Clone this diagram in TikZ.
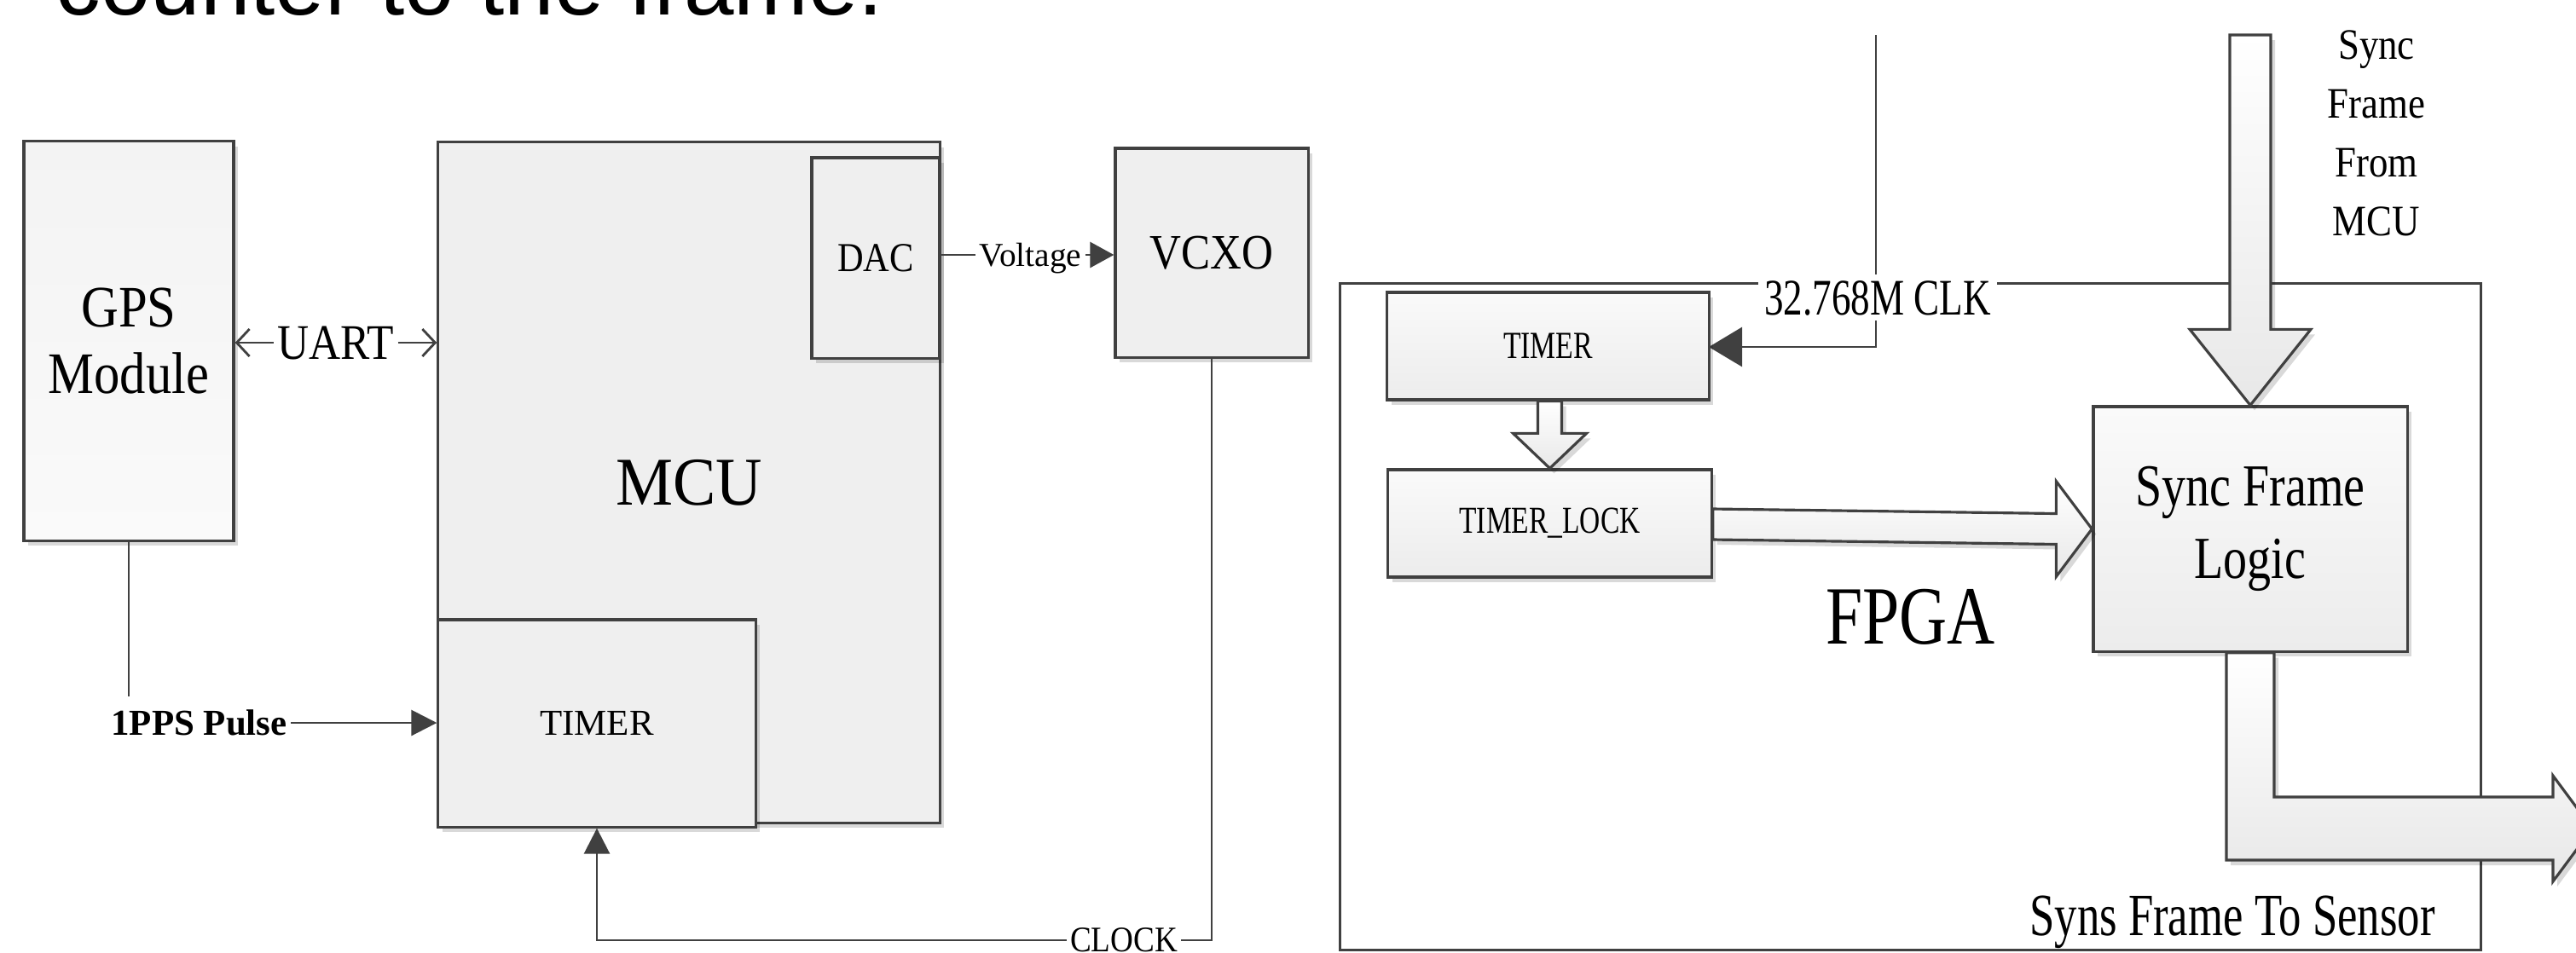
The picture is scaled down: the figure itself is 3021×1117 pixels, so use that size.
\documentclass[tikz,border=0pt]{standalone}
\usepackage{fontspec}
\setmainfont{Liberation Serif}
\newfontfamily\capfont{Liberation Sans}
\newfontfamily\serN{Liberation Serif}
\newfontfamily\serS{Liberation Serif}[FakeStretch=0.88]
\newfontfamily\serM{Liberation Serif}[FakeStretch=0.94]
\newfontfamily\serC{Liberation Serif}[FakeStretch=0.80]
\newfontfamily\serD{Liberation Serif}[FakeStretch=0.75]
\usetikzlibrary{arrows.meta,calc,shadows}
\definecolor{linegray}{RGB}{64,64,64}
\definecolor{boxgray}{RGB}{239,239,239}
\definecolor{gtop}{RGB}{243,243,243}
\definecolor{gbot}{RGB}{250,250,250}
\definecolor{ftop}{RGB}{250,250,250}
\definecolor{fbot}{RGB}{236,236,236}
\definecolor{abot}{RGB}{232,232,232}
\begin{document}
\begin{tikzpicture}[x=0.01cm,y=-0.01cm,
  shd/.style={drop shadow={shadow xshift=0.05cm,shadow yshift=-0.06cm,opacity=0.15,fill=black}},
  box/.style={draw=linegray,line width=0.9pt,fill=boxgray,rectangle,inner sep=0pt,shd},
  gpsbox/.style={box,top color=gtop,bottom color=gbot},
  fbox/.style={box,top color=ftop,bottom color=fbot},
  hollow/.style={draw=linegray,line width=0.9pt,top color=white,bottom color=abot,line join=miter,shd},
  conn/.style={draw=linegray,line width=0.8pt},
  lbl/.style={inner sep=1pt,text depth=0pt},
  barb/.style={Straight Barb[length=0.15cm,width=0.32cm]},
  tri/.style={Triangle[length=0.3cm,width=0.3cm]}
]
\useasboundingbox (0,0) rectangle (3021,1117);
\clip (0,0) rectangle (3021,1117);

% caption fragment at the top
\node[font=\capfont\fontsize{29.9}{36}\selectfont,anchor=base west,inner sep=0pt] (cap) at (65,17) {counter to the frame.};

% ---------- left part ----------
\node[gpsbox,minimum width=2.46cm,minimum height=4.68cm,align=center,
      font=\serS\fontsize{19.6}{22.2}\selectfont] (GPS) at (151,400) {GPS\\Module};
\node[box,minimum width=5.88cm,minimum height=7.98cm,
      font=\serM\fontsize{22.8}{26}\selectfont] (MCU) at (808,566) {MCU};
\node[box,minimum width=1.50cm,minimum height=2.35cm,
      font=\serS\fontsize{13.7}{16}\selectfont] (DAC) at (1027,302.5) {DAC};
\node[box,minimum width=3.72cm,minimum height=2.43cm,
      font=\serN\fontsize{12.2}{14}\selectfont] (mtimer) at (700,848.5) {TIMER};
\node[box,minimum width=2.26cm,minimum height=2.45cm,
      font=\serS\fontsize{16.5}{19}\selectfont] (VCXO) at (1421,296.5) {VCXO};

% UART
\node[lbl,font=\serS\fontsize{16.6}{19}\selectfont] (uart) at (394,402) {UART};
\draw[conn,{Straight Barb[length=0.15cm,width=0.32cm]}-] (GPS.east |- uart) -- (uart.west);
\draw[conn,-{Straight Barb[length=0.15cm,width=0.32cm]}] (uart.east) -- (MCU.west |- uart);

% 1PPS
\node[font=\serN\bfseries\fontsize{12.2}{14}\selectfont,inner xsep=1pt,inner ysep=4.3pt,text depth=0pt] (pps) at (233.5,848) {1PPS Pulse};
\draw[conn] (GPS.south) -- (GPS.south |- pps.north);
\draw[conn,-{Triangle[length=0.3cm,width=0.3cm]}] (pps.east) -- (mtimer.west |- pps.east);

% Voltage
\node[lbl,font=\serN\fontsize{11.2}{13}\selectfont] (volt) at (1208.5,299) {Voltage};
\draw[conn] (DAC.east |- volt) -- (volt.west);
\draw[conn,-{Triangle[length=0.28cm,width=0.3cm]}] (volt.east) -- (VCXO.west |- volt);

% CLOCK
\node[lbl,font=\serS\fontsize{12}{14}\selectfont] (clk) at (1318,1103) {CLOCK};
\draw[conn] (VCXO.south) |- (clk.east);
\draw[conn,-{Triangle[length=0.3cm,width=0.3cm]}] (clk.west) -| (mtimer.south);

% ---------- FPGA part ----------
\node[draw=linegray,line width=0.9pt,fill=white,minimum width=13.37cm,minimum height=7.81cm,inner sep=0pt,
      font=\serC\fontsize{27.6}{32}\selectfont] (FPGA) at (2240.5,723.5) {FPGA};

\coordinate (clktop) at (2200,41);
\draw[conn,-{Triangle[length=0.39cm,width=0.46cm]}] (clktop) |- (2004,407);

\node[fbox,minimum width=3.77cm,minimum height=1.26cm,
      font=\serD\fontsize{12.8}{15}\selectfont] (ftimer) at (1815.5,406) {TIMER};
\node[fbox,minimum width=3.79cm,minimum height=1.26cm,
      font=\serD\fontsize{12.7}{15}\selectfont] (tlock) at (1817.5,614) {TIMER\_LOCK};
\node[fbox,minimum width=3.68cm,minimum height=2.87cm,align=center,
      font=\serC\fontsize{19.9}{24.2}\selectfont] (SFL) at (2639,620.5) {Sync Frame\\Logic};

% TIMER -> TIMER_LOCK
\filldraw[hollow] ($(tlock.north |- ftimer.south)+(-14,0)$) -- ($(tlock.north)+(-14,-41)$) -- ($(tlock.north)+(-43,-41)$)
  -- (tlock.north) -- ($(tlock.north)+(43,-41)$) -- ($(tlock.north)+(14,-41)$) -- ($(tlock.north |- ftimer.south)+(14,0)$) -- cycle;

% TIMER_LOCK -> Sync Frame Logic
\filldraw[hollow] ($(tlock.east)+(0,-17)$) -- ($(SFL.west)+(-42,-18)$) -- ($(SFL.west)+(-42,-56)$)
  -- (SFL.west) -- ($(SFL.west)+(-42,56)$) -- ($(SFL.west)+(-42,18)$) -- ($(tlock.east)+(0,19)$) -- cycle;

% Sync frame from MCU
\coordinate (synctop) at (2637,41);
\filldraw[hollow] ($(SFL.north |- synctop)+(-24,0)$) -- ($(SFL.north)+(-24,-89)$) -- ($(SFL.north)+(-71,-89)$)
  -- (SFL.north) -- ($(SFL.north)+(71,-89)$) -- ($(SFL.north)+(24,-89)$) -- ($(SFL.north |- synctop)+(24,0)$) -- cycle;
\node[font=\serS\fontsize{14.5}{19.6}\selectfont,align=center] (syncl) at (2787,156) {Sync\\Frame\\From\\MCU};

% output to sensor
\coordinate (outtip) at (3040,972);
\filldraw[hollow] ($(SFL.south)+(-28,0)$) |- ($(outtip)+(-46,37)$) -- ($(outtip)+(-46,62)$) -- (outtip)
  -- ($(outtip)+(-46,-62)$) -- ($(outtip)+(-46,-37)$) -| ($(SFL.south)+(28,0)$) -- cycle;
\node[font=\serD\fontsize{20}{24}\selectfont,anchor=base,inner sep=0pt] (syns) at (2618,1097) {Syns Frame To Sensor};

% 32.768M CLK label over the frame line
\node[lbl,fill=white,inner xsep=2pt,inner ysep=2pt,font=\serD\fontsize{17.1}{20}\selectfont] (clklbl) at (2202,349) {32.768M CLK};
\end{tikzpicture}
\end{document}
